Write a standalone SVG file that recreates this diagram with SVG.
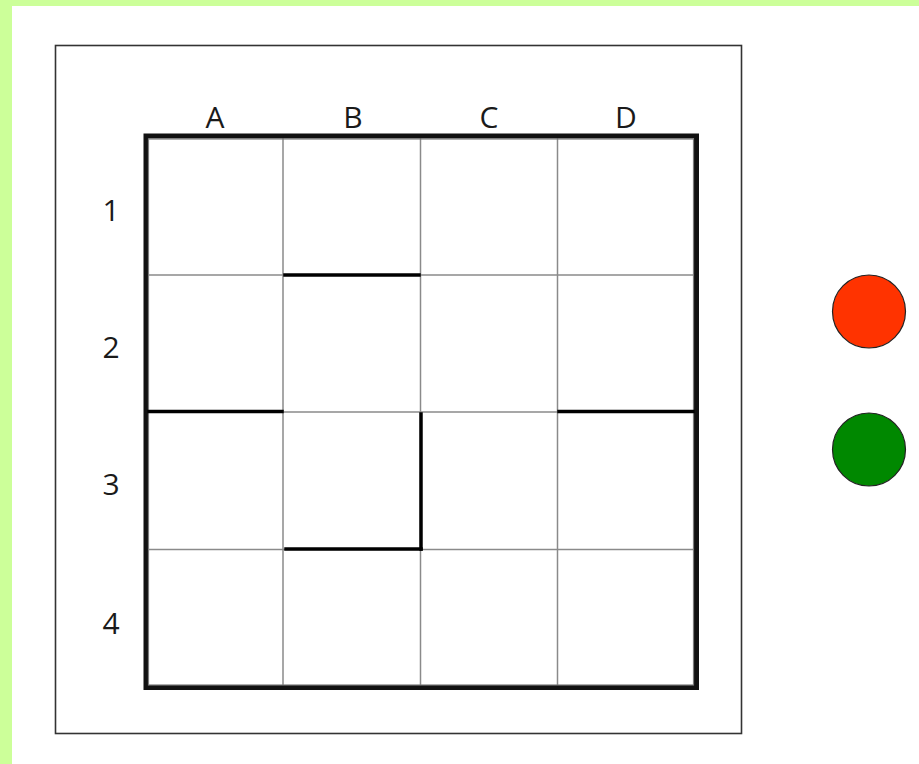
<svg xmlns="http://www.w3.org/2000/svg" width="919" height="764" viewBox="0 0 919 764">
<style>
.lbl{font-family:"Open Sans","Liberation Sans",sans-serif;font-size:30px;fill:#1a1a1a;text-anchor:middle}
.thin{stroke:#8a8a8a;stroke-width:1.5;fill:none}
.wall{stroke:#000;stroke-width:3.5;fill:none;stroke-linecap:square}
</style>
<rect x="0" y="0" width="919" height="764" fill="#ccff99"/>
<rect x="12" y="6" width="907" height="758" fill="#ffffff"/>
<g id="frame">
<rect x="55.5" y="45.5" width="686" height="688" fill="none" stroke="#333" stroke-width="1.6"/>
</g>
<g id="grid">
<line class="thin" x1="283" y1="138" x2="283" y2="690"/>
<line class="thin" x1="420.5" y1="138" x2="420.5" y2="690"/>
<line class="thin" x1="557.5" y1="138" x2="557.5" y2="690"/>
<line class="thin" x1="146" y1="275" x2="695" y2="275"/>
<line class="thin" x1="146" y1="412" x2="695" y2="412"/>
<line class="thin" x1="146" y1="549.5" x2="695" y2="549.5"/>
<rect x="146" y="136" width="550.5" height="551.5" fill="none" stroke="#111" stroke-width="5"/>
<rect x="148.5" y="139" width="545" height="546" fill="none" stroke="#7a7a7a" stroke-width="1.2"/>
</g>
<g id="walls">
<line class="wall" x1="285" y1="275" x2="419" y2="275"/>
<line class="wall" x1="149" y1="411.5" x2="282" y2="411.5"/>
<line class="wall" x1="559" y1="411.5" x2="693" y2="411.5"/>
<line class="wall" x1="421" y1="414" x2="421" y2="549"/>
<line class="wall" x1="286" y1="549" x2="421" y2="549"/>
</g>
<g id="col-labels">
<text class="lbl" x="215" y="128">A</text>
<text class="lbl" x="353" y="128">B</text>
<text class="lbl" x="489" y="128">C</text>
<text class="lbl" x="626" y="128">D</text>
</g>
<g id="row-labels">
<text class="lbl" x="111" y="221">1</text>
<text class="lbl" x="111" y="358">2</text>
<text class="lbl" x="111" y="495">3</text>
<text class="lbl" x="111" y="634">4</text>
</g>
<g id="red-light">
<circle cx="869" cy="311.5" r="36.5" fill="#ff3300" stroke="#222" stroke-width="1.2"/>
</g>
<g id="green-light">
<circle cx="869" cy="449.5" r="36.5" fill="#008800" stroke="#222" stroke-width="1.2"/>
</g>
</svg>
